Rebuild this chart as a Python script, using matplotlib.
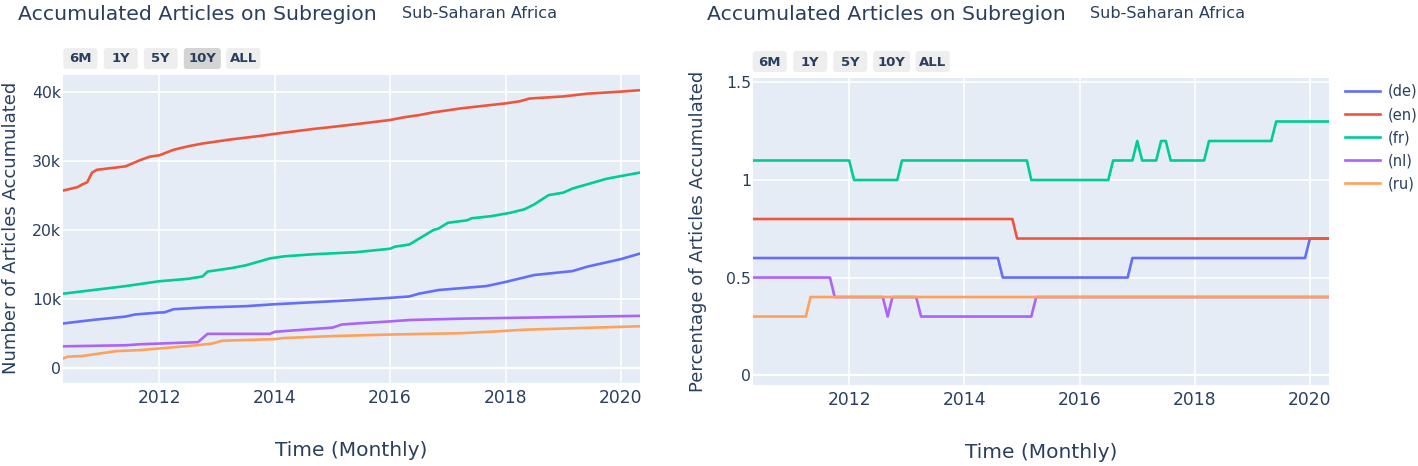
import matplotlib
matplotlib.use("Agg")
import matplotlib.pyplot as plt
import matplotlib.dates as mdates
from matplotlib.patches import FancyBboxPatch
from matplotlib.ticker import FuncFormatter
import pandas as pd

# Colores estilo plotly
BG = "#E5ECF6"
TXT = "#2a3f5f"
langs = ["(de)", "(en)", "(fr)", "(nl)", "(ru)"]
colors = ["#636EFA", "#EF553B", "#00CC96", "#AB63FA", "#FFA15A"]

# Numero de articulos acumulados (grafico izquierdo)
de_dates = ["2010-05", "2010-11", "2011-06", "2011-08", "2012-01", "2012-02", "2012-04",
            "2012-10", "2013-07", "2014-01", "2015-02", "2016-01", "2016-05", "2016-07",
            "2016-11", "2017-09", "2018-01", "2018-07", "2019-03", "2019-06", "2020-01",
            "2020-03", "2020-05"]
de_vals = [6500, 7000, 7500, 7800, 8080, 8100, 8560, 8800, 9000, 9280, 9750, 10200, 10400,
           10800, 11330, 11900, 12500, 13500, 14070, 14700, 15800, 16200, 16600]

en_dates = ["2010-05", "2010-08", "2010-09", "2010-10", "2010-11", "2010-12", "2011-06",
            "2011-09", "2011-11", "2012-01", "2012-04", "2012-07", "2012-10", "2013-04",
            "2013-10", "2014-01", "2014-09", "2015-01", "2015-06", "2016-01", "2016-04",
            "2016-07", "2016-10", "2017-04", "2018-01", "2018-04", "2018-06", "2019-01",
            "2019-06", "2020-01", "2020-05"]
en_vals = [25700, 26200, 26600, 26900, 28300, 28700, 29200, 30100, 30600, 30800, 31600,
           32100, 32500, 33100, 33600, 33900, 34600, 34900, 35300, 35900, 36300, 36600,
           37000, 37600, 38300, 38600, 39000, 39300, 39700, 40000, 40200]

fr_dates = ["2010-05", "2011-06", "2012-01", "2012-07", "2012-10", "2012-11", "2013-04",
            "2013-07", "2013-10", "2013-12", "2014-03", "2014-09", "2015-06", "2016-01",
            "2016-02", "2016-05", "2016-10", "2016-11", "2017-01", "2017-05", "2017-06",
            "2017-10", "2018-02", "2018-05", "2018-07", "2018-10", "2019-01", "2019-03",
            "2019-06", "2019-10", "2020-01", "2020-05"]
fr_vals = [10800, 11900, 12600, 12950, 13300, 14000, 14500, 14900, 15500, 15900, 16200,
           16500, 16800, 17300, 17600, 17900, 20000, 20200, 21050, 21400, 21700, 22000,
           22500, 23000, 23700, 25050, 25400, 26000, 26600, 27400, 27800, 28300]

nl_dates = ["2010-05", "2011-06", "2011-09", "2012-09", "2012-11", "2013-12", "2014-01",
            "2015-01", "2015-03", "2015-06", "2016-01", "2016-05", "2017-04", "2020-05"]
nl_vals = [3200, 3350, 3500, 3800, 5000, 5000, 5300, 5900, 6350, 6500, 6800, 7000, 7200, 7600]

ru_dates = ["2010-05", "2010-06", "2010-09", "2011-04", "2011-09", "2012-09", "2012-12",
            "2013-02", "2014-01", "2014-03", "2015-02", "2016-01", "2017-04", "2017-11",
            "2018-05", "2020-05"]
ru_vals = [1450, 1700, 1800, 2500, 2650, 3370, 3600, 4000, 4240, 4400, 4700, 4900, 5100,
           5350, 5600, 6100]

# Porcentaje de articulos acumulados (grafico derecho)
de_pct_dates = ["2010-05", "2014-08", "2014-09", "2016-11", "2016-12", "2019-12", "2020-01", "2020-05"]
de_pct = [0.6, 0.6, 0.5, 0.5, 0.6, 0.6, 0.7, 0.7]

en_pct_dates = ["2010-05", "2014-11", "2014-12", "2020-05"]
en_pct = [0.8, 0.8, 0.7, 0.7]

fr_pct_dates = ["2010-05", "2012-01", "2012-02", "2012-11", "2012-12", "2015-02", "2015-03",
                "2016-07", "2016-08", "2016-12", "2017-01", "2017-02", "2017-05", "2017-06",
                "2017-07", "2017-08", "2018-03", "2018-04", "2019-05", "2019-06", "2020-05"]
fr_pct = [1.1, 1.1, 1.0, 1.0, 1.1, 1.1, 1.0, 1.0, 1.1, 1.1, 1.2, 1.1, 1.1, 1.2, 1.2, 1.1,
          1.1, 1.2, 1.2, 1.3, 1.3]

nl_pct_dates = ["2010-05", "2011-09", "2011-10", "2012-08", "2012-09", "2012-10", "2013-03",
                "2013-04", "2015-03", "2015-04", "2020-05"]
nl_pct = [0.5, 0.5, 0.4, 0.4, 0.3, 0.4, 0.4, 0.3, 0.3, 0.4, 0.4]

ru_pct_dates = ["2010-05", "2011-04", "2011-05", "2020-05"]
ru_pct = [0.3, 0.3, 0.4, 0.4]

buttons = ["6M", "1Y", "5Y", "10Y", "ALL"]

W, H = 1418, 466
fig = plt.figure(figsize=(W / 100, H / 100), dpi=100)


def px_axes(left, top, right, bottom):
    return fig.add_axes([left / W, 1 - bottom / H, (right - left) / W, (bottom - top) / H])


def style(ax):
    ax.set_facecolor(BG)
    for s in ax.spines.values():
        s.set_visible(False)
    ax.grid(True, color="white", lw=1.2)
    ax.set_axisbelow(True)
    ax.set_xlim(pd.Timestamp("2010-05-01"), pd.Timestamp("2020-05-01"))
    ax.xaxis.set_major_locator(mdates.YearLocator(2))
    ax.xaxis.set_major_formatter(mdates.DateFormatter("%Y"))
    ax.tick_params(axis="x", length=0, colors=TXT, labelsize=12.3, pad=4)
    ax.tick_params(axis="y", length=0, colors=TXT, labelsize=11.3, pad=1.5)
    ax.axhline(0, color="white", lw=1.6, zorder=1)


def draw_buttons(left, top, active):
    offs = [0, 40.5, 80.5, 120.5, 163]
    widths = [34, 34, 34, 37, 34]
    h = 21
    for lab, o, w in zip(buttons, offs, widths):
        x0 = left + o
        fc = "#d4d4d4" if lab == active else "#eeeeee"
        p = FancyBboxPatch((x0 / 100, (H - top - h) / 100), w / 100, h / 100,
                           boxstyle="round,pad=0,rounding_size=0.03",
                           transform=fig.dpi_scale_trans, fc=fc, ec="none")
        fig.patches.append(p)
        fig.text((x0 + w / 2) / W, 1 - (top + h / 2 + 0.5) / H, lab, ha="center", va="center",
                 fontsize=9.5, fontweight="bold", color=TXT, family="DejaVu Sans")


# ---- grafico izquierdo ----
ax1 = px_axes(63, 75, 640, 383)
style(ax1)
left_series = [(de_dates, de_vals), (en_dates, en_vals), (fr_dates, fr_vals),
               (nl_dates, nl_vals), (ru_dates, ru_vals)]
for (d, v), c in zip(left_series, colors):
    ax1.plot(pd.to_datetime(d), v, color=c, lw=1.9)
ax1.set_ylim(-2100, 42400)
ax1.set_yticks([0, 10000, 20000, 30000, 40000])
ax1.yaxis.set_major_formatter(FuncFormatter(lambda v, p: "0" if v == 0 else f"{int(v / 1000)}k"))

# ---- grafico derecho ----
ax2 = px_axes(753, 78, 1329, 385)
style(ax2)
right_series = [(de_pct_dates, de_pct), (en_pct_dates, en_pct), (fr_pct_dates, fr_pct),
                (nl_pct_dates, nl_pct), (ru_pct_dates, ru_pct)]
handles = []
for (d, v), c in zip(right_series, colors):
    ln, = ax2.plot(pd.to_datetime(d), v, color=c, lw=1.9)
    handles.append(ln)
ax2.set_ylim(-0.051, 1.523)
ax2.set_yticks([0, 0.5, 1, 1.5])
ax2.set_yticklabels(["0", "0.5", "1", "1.5"])

leg = fig.legend(handles, langs, loc="upper left", bbox_to_anchor=(1345 / W, 1 - 84 / H),
                 frameon=False, fontsize=10.5, handlelength=2.4, handletextpad=0.5,
                 labelspacing=0.55, borderpad=0, borderaxespad=0)
for t in leg.get_texts():
    t.set_color(TXT)

# Titulos y etiquetas
for x_t, x_s in [(18, 402), (707, 1090)]:
    fig.text(x_t / W, 1 - 14 / H, "Accumulated Articles on Subregion", fontsize=14.7,
             color=TXT, va="center")
    fig.text(x_s / W, 1 - 14 / H, "Sub-Saharan Africa", fontsize=11.6, color=TXT, va="center")

fig.text(11 / W, 1 - 228 / H, "Number of Articles Accumulated", rotation=90, fontsize=13,
         color=TXT, ha="center", va="center")
fig.text(698 / W, 1 - 231 / H, "Percentage of Articles Accumulated", rotation=90, fontsize=13,
         color=TXT, ha="center", va="center")
fig.text(351 / W, 1 - 450 / H, "Time (Monthly)", fontsize=14.5, color=TXT, ha="center", va="center")
fig.text(1041 / W, 1 - 452 / H, "Time (Monthly)", fontsize=14.5, color=TXT, ha="center", va="center")

draw_buttons(63.3, 48, "10Y")
draw_buttons(752.7, 51, None)

fig.savefig("out.png", dpi=100, facecolor="white")
